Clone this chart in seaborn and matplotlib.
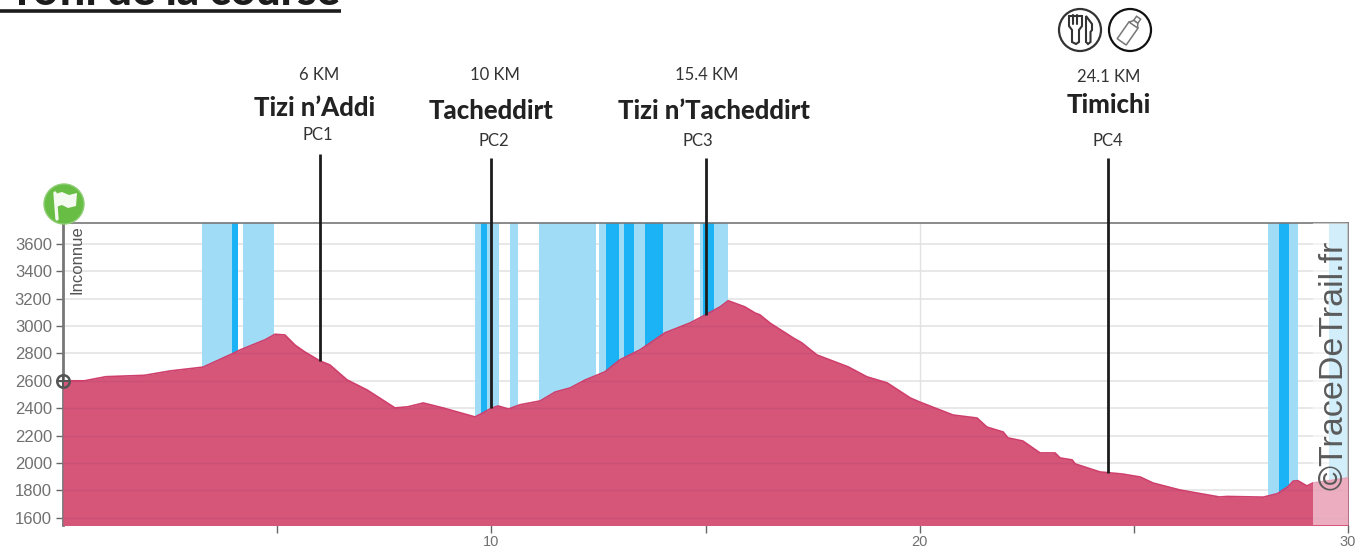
import pandas as pd
import seaborn as sns
import matplotlib.pyplot as plt
from matplotlib.patches import Circle, Polygon, Rectangle, FancyBboxPatch
from matplotlib.transforms import Affine2D

# profile
km = [0, 0.5, 1, 1.9, 2.5, 3.27, 3.97, 4.13, 4.72, 4.95, 5.18, 5.42, 5.65, 6.0, 6.23, 6.63,
      7.1, 7.75, 8.05, 8.41, 8.87, 9.46, 9.62, 9.8, 10, 10.16, 10.4, 10.67, 11.14, 11.49, 11.84, 12.19,
      12.65, 13, 13.47, 14.05, 14.64, 15.0, 15.34, 15.53, 15.92, 16.16, 16.27, 16.51, 17.05, 17.25,
      17.6, 18.33, 18.77, 19.24, 19.78, 20, 20.78, 21.34, 21.57, 21.95, 22.06, 22.41, 22.81, 23.16,
      23.28, 23.56, 23.63, 24.21, 24.73, 25.15, 25.45, 26.08, 27.0, 27.18, 28.02, 28.35, 28.6, 28.72,
      28.83, 29.04, 29.18, 30]
elevation = [2600, 2600, 2630, 2640, 2672, 2700, 2800, 2825, 2900, 2940, 2935, 2860, 2810, 2745, 2716, 2607,
             2533, 2402, 2410, 2438, 2402, 2350, 2336, 2365, 2400, 2416, 2394, 2425, 2453, 2518, 2548, 2606,
             2665, 2753, 2826, 2950, 3023, 3082, 3140, 3185, 3140, 3095, 3082, 3021, 2913, 2877,
             2789, 2702, 2629, 2585, 2475, 2445, 2350, 2328, 2262, 2226, 2183, 2160, 2073, 2073,
             2036, 2022, 1993, 1934, 1919, 1897, 1853, 1802, 1751, 1755, 1750, 1775, 1827, 1867,
             1870, 1832, 1853, 1890]

light_bands = [(3.25, 3.95), (4.21, 4.93), (9.63, 9.75), (9.91, 10.19), (10.44, 10.62), (11.12, 12.44),
               (12.52, 12.67), (12.97, 13.09), (13.32, 13.58), (14.0, 14.72), (14.86, 14.95),
               (15.21, 15.53), (28.14, 28.38), (28.63, 28.83), (29.56, 30)]
dark_bands = [(3.95, 4.09), (9.75, 9.91), (12.67, 12.97), (13.09, 13.32), (13.58, 14.0), (14.95, 15.21),
              (28.38, 28.63)]

pc_km = [6.0, 10.0, 15.0, 24.4]
pc_elev = [2745, 2400, 3082, 1925]
pc_top = [4258, 4230, 4230, 4230]
pc_distance = ['6 KM', '10 KM', '15.4 KM', '24.1 KM']
pc_name = ['Tizi n\u2019Addi', 'Tacheddirt', 'Tizi n\u2019Tacheddirt', 'Timichi']
pc_code = ['PC1', 'PC2', 'PC3', 'PC4']

y_ticks = [1600, 1800, 2000, 2200, 2400, 2600, 2800, 3000, 3200, 3400, 3600]

W, H = 1370, 551
sns.set_theme(style="white")
fig = plt.figure(figsize=(W / 100, H / 100), dpi=100)
ax = fig.add_axes([63 / W, 1 - 524.5 / H, (1348 - 63) / W, (524.5 - 223) / H])

df = pd.DataFrame({'km': km, 'elevation': elevation})
for a, b in light_bands:
    ax.axvspan(a, b, color='#a0dcf5', lw=0, zorder=2)
for a, b in dark_bands:
    ax.axvspan(a, b, color='#1bb3f5', lw=0, zorder=2)

area = ax.fill_between(df['km'], df['elevation'], 1000, color='#d6567a', lw=0, zorder=3)
sns.lineplot(data=df, x='km', y='elevation', color='#cf3f6c', lw=1.2, ax=ax, zorder=4)
ax.set_xlabel('')
ax.set_ylabel('')

ax.set_xlim(0, 30)
ax.set_ylim(1550, 3753)
ax.set_yticks(y_ticks)
ax.set_xticks([5, 10, 15, 20, 25, 30])
ax.set_xticklabels(['', '10', '', '20', '', '30'])
ax.tick_params(axis='y', length=5, width=1, color='#666666', labelcolor='#707070', labelsize=12,
               pad=3, left=True)
ax.tick_params(axis='x', length=6, width=1, color='#666666', labelcolor='#707070', labelsize=10.5,
               pad=1.5, bottom=True)
for lab in ax.get_xticklabels() + ax.get_yticklabels():
    lab.set_fontfamily('Liberation Sans')

ax.hlines(y_ticks, 0, 30, color='#e2e2e2', lw=1.1, zorder=1)
ax.vlines([10, 20], 1550, 3753, color='#e2e2e2', lw=1, zorder=1)
# faint grid showing through the fill
inner = ax.hlines(y_ticks, 0, 30, color='#cb5075', lw=1, zorder=3.5)
inner.set_clip_path(area.get_paths()[0], area.get_transform())

for side in ax.spines:
    ax.spines[side].set_color('#777777')
    ax.spines[side].set_linewidth(1.2)
ax.spines['left'].set_linewidth(2)

# pale end of the chart
ax.axvspan(29.18, 30, color='white', alpha=0.52, lw=0, zorder=5)

ax.text(0.32, 3735, 'Inconnue', rotation=90, ha='center', va='top', fontsize=12, color='#555555',
        family='Liberation Sans', zorder=6)
ax.text(29.68, 1800, '\u00a9TraceDeTrail.fr', rotation=90, ha='center', va='bottom', fontsize=24.5,
        color='#5a5a5a', family='Liberation Sans', zorder=6)

# checkpoint lines, up above the plot
ax.vlines(pc_km, pc_elev, pc_top, color='#1c1c1c', lw=2, zorder=6, clip_on=False)

# start marker
ax.plot([0], [2600], marker='o', ms=9, mfc='none', mec='#555555', mew=1.8, clip_on=False, zorder=7)
ax.plot([0], [2600], marker='+', ms=9, color='#555555', mew=1.4, clip_on=False, zorder=7)

# everything around the chart in pixel coordinates
deco = fig.add_axes([0, 0, 1, 1], zorder=10)
deco.set_xlim(0, W)
deco.set_ylim(H, 0)
deco.axis('off')
deco.patch.set_alpha(0)

pc_dist_pos = [(319, 74.5), (495, 74.5), (707, 74.5), (1109, 76.5)]
pc_name_pos = [(315, 108), (491, 111), (714, 111), (1109, 105)]
pc_code_pos = [(318, 135.5), (494, 141.5), (698, 141.5), (1108, 141.5)]
for i in range(4):
    deco.text(*pc_dist_pos[i], pc_distance[i], ha='center', va='center', fontsize=12, color='#333333',
              family='Lato')
    deco.text(*pc_name_pos[i], pc_name[i], ha='center', va='center', fontsize=18.5, fontweight='black',
              color='#222222', family='Lato')
    deco.text(*pc_code_pos[i], pc_code[i], ha='center', va='center', fontsize=12, color='#333333',
              family='Lato')

# title, cut by the top edge
deco.text(340, 5, 'Profil de la course', ha='right', va='baseline', fontsize=31.5, fontweight='black',
          color='#1c1c1c', family='Lato', clip_on=True)
deco.plot([0, 341], [10.5, 10.5], color='#1c1c1c', lw=2.6, solid_capstyle='butt')

# start flag
deco.add_patch(Circle((64, 204), 20, fc='#68bd45', ec='#8fce75', lw=1))
deco.add_patch(Polygon([(55, 194), (62, 192), (69, 195), (77, 193), (76, 206), (68, 208), (62, 205), (56, 207)],
                       fc='#f4faf0', ec='none'))
deco.plot([55, 57], [193, 219], color='#f4faf0', lw=2.4)

# food and drink icons
deco.add_patch(Circle((1080, 30), 21, fc='white', ec='#333333', lw=1.6))
deco.add_patch(Circle((1130, 30), 21, fc='white', ec='#111111', lw=1.6))
deco.add_patch(Polygon([(1069, 16), (1069, 26), (1072, 30), (1072, 42), (1076, 44), (1079, 42), (1079, 30),
                        (1082, 26), (1082, 16)], fc='white', ec='#333333', lw=1.5))
for x in (1073.5, 1077.5):
    deco.plot([x, x], [15, 24], color='#333333', lw=1.5)
deco.add_patch(Polygon([(1086, 16), (1092, 24), (1092, 30), (1090.5, 32), (1090.5, 42), (1088, 44), (1086, 42)],
                       fc='white', ec='#333333', lw=1.5))
rot = Affine2D().rotate_deg_around(1130, 30, 35) + deco.transData
deco.add_patch(FancyBboxPatch((1125, 24), 10, 20, boxstyle='round,pad=0.5', fc='white', ec='#777777', lw=1.1,
                              transform=rot))
deco.add_patch(Rectangle((1127.5, 15), 5, 5, fc='white', ec='#777777', lw=1.1, transform=rot))
deco.add_patch(Polygon([(1125, 24), (1127.5, 20), (1132.5, 20), (1135, 24)], fc='white', ec='#777777', lw=1.1,
                       transform=rot))

fig.savefig('out.png', dpi=100)
